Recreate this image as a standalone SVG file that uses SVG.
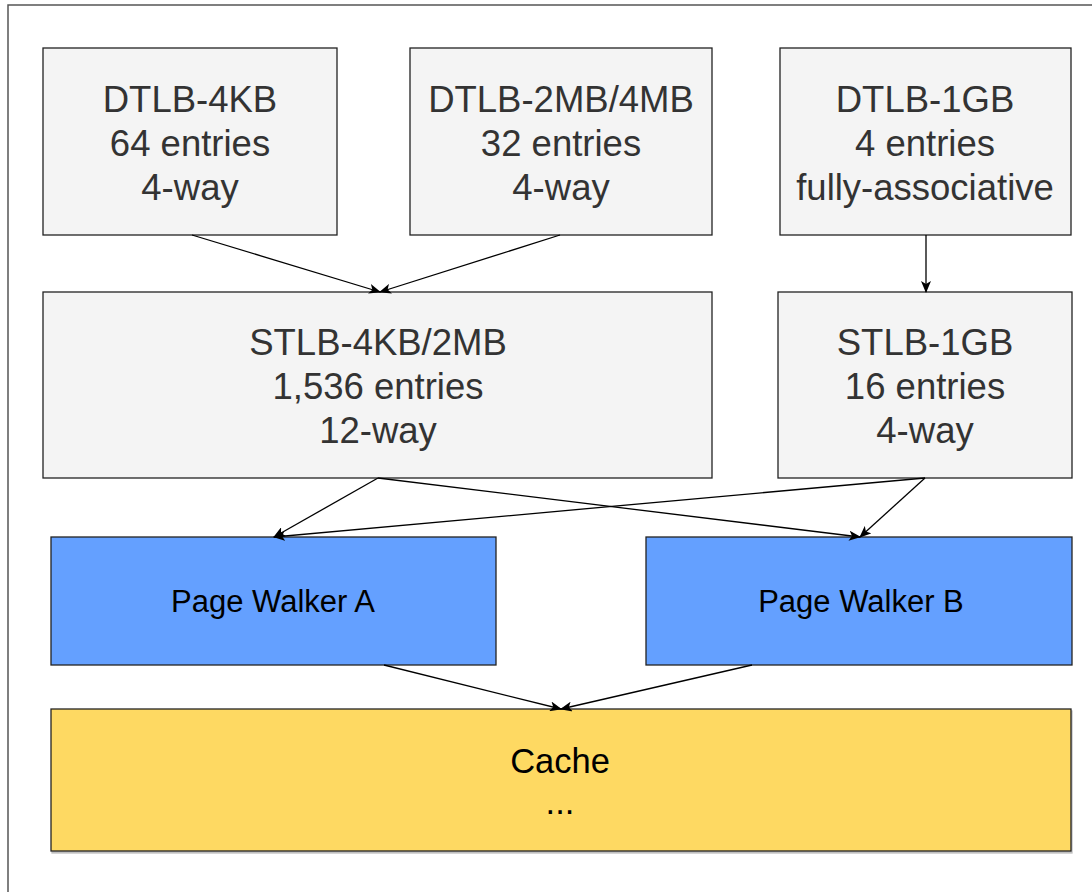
<svg xmlns="http://www.w3.org/2000/svg" width="1092" height="892" viewBox="0 0 1092 892">
  <style>
    .tlb { fill: #f4f4f4; stroke: #222; stroke-width: 1.3; }
    .walker { fill: #64a0ff; stroke: #222; stroke-width: 1.3; }
    .cache { fill: #fed962; stroke: #222; stroke-width: 1.3; }
    .big { font-family: "Liberation Sans", Arial, sans-serif; font-size: 36.5px; fill: #333; text-anchor: middle; }
    .mid { font-family: "Liberation Sans", Arial, sans-serif; font-size: 31px; fill: #000; text-anchor: middle; }
    .cachetxt { font-family: "Liberation Sans", Arial, sans-serif; font-size: 34.5px; fill: #000; text-anchor: middle; }
    .edge { stroke: #000; stroke-width: 1.3; fill: none; marker-end: url(#arrow); }
  </style>
  <defs>
    <marker id="arrow" viewBox="0 0 12 10" refX="11" refY="5" markerWidth="12" markerHeight="10" markerUnits="userSpaceOnUse" orient="auto">
      <path d="M0,0 L12,5 L0,10 L3,5 Z" fill="#000"/>
    </marker>
    <filter id="shadow" x="-5%" y="-5%" width="110%" height="115%">
      <feDropShadow dx="1" dy="2" stdDeviation="0.5" flood-color="#000" flood-opacity="0.25"/>
    </filter>
  </defs>

  <rect width="1092" height="892" fill="#fff"/>
  <!-- outer frame -->
  <rect x="8" y="5" width="1100" height="900" fill="none" stroke="#555" stroke-width="1.5"/>

  <g id="dtlb-4kb">
    <rect class="tlb" x="43" y="48" width="294" height="187"/>
    <text class="big" x="190" y="112">DTLB-4KB</text>
    <text class="big" x="190" y="156">64 entries</text>
    <text class="big" x="190" y="200">4-way</text>
  </g>
  <g id="dtlb-2mb">
    <rect class="tlb" x="410" y="48" width="302" height="187"/>
    <text class="big" x="561" y="112">DTLB-2MB/4MB</text>
    <text class="big" x="561" y="156">32 entries</text>
    <text class="big" x="561" y="200">4-way</text>
  </g>
  <g id="dtlb-1gb">
    <rect class="tlb" x="780" y="48" width="291" height="187"/>
    <text class="big" x="925" y="112">DTLB-1GB</text>
    <text class="big" x="925" y="156">4 entries</text>
    <text class="big" x="925" y="200">fully-associative</text>
  </g>
  <g id="stlb-4kb-2mb">
    <rect class="tlb" x="43" y="292" width="669" height="186"/>
    <text class="big" x="378" y="355">STLB-4KB/2MB</text>
    <text class="big" x="378" y="399">1,536 entries</text>
    <text class="big" x="378" y="443">12-way</text>
  </g>
  <g id="stlb-1gb">
    <rect class="tlb" x="778" y="292" width="294" height="186"/>
    <text class="big" x="925" y="355">STLB-1GB</text>
    <text class="big" x="925" y="399">16 entries</text>
    <text class="big" x="925" y="443"> 4-way</text>
  </g>
  <g id="page-walker-a">
    <rect class="walker" x="51" y="537" width="445" height="128"/>
    <text class="mid" x="273" y="612">Page Walker A</text>
  </g>
  <g id="page-walker-b">
    <rect class="walker" x="646" y="537" width="426" height="128"/>
    <text class="mid" x="861" y="612">Page Walker B</text>
  </g>
  <g id="cache">
    <rect class="cache" x="51" y="709" width="1020" height="142" filter="url(#shadow)"/>
    <text class="cachetxt" x="560" y="773">Cache</text>
    <text class="cachetxt" x="560" y="814">...</text>
  </g>

  <g id="connectors">
    <line class="edge" x1="192" y1="235" x2="380" y2="292"/>
    <line class="edge" x1="560" y1="235" x2="380" y2="292"/>
    <line class="edge" x1="926" y1="235" x2="926" y2="292"/>
    <line class="edge" x1="378" y1="478" x2="274" y2="537"/>
    <line class="edge" x1="378" y1="478" x2="860" y2="537"/>
    <line class="edge" x1="925" y1="478" x2="274" y2="537"/>
    <line class="edge" x1="925" y1="478" x2="860" y2="537"/>
    <line class="edge" x1="384" y1="665" x2="561" y2="709"/>
    <line class="edge" x1="752" y1="665" x2="561" y2="709"/>
  </g>
</svg>
